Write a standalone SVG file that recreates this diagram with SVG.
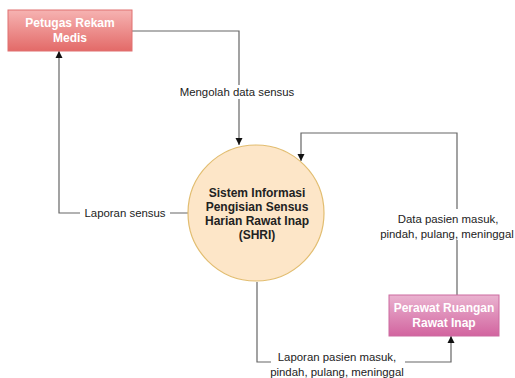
<svg xmlns="http://www.w3.org/2000/svg" width="515" height="378" viewBox="0 0 515 378">
<style>
.lbl{font-family:"Liberation Sans",Arial,sans-serif;font-size:11.4px;fill:#222;text-anchor:middle}
.nt{font-family:"Liberation Sans",Arial,sans-serif;font-size:12px;font-weight:bold;text-anchor:middle}
.edge{fill:none;stroke:#666;stroke-width:1.2}
.bg{fill:#fff}
</style>
<defs>
<linearGradient id="gRed" x1="0" y1="0" x2="0" y2="1"><stop offset="0" stop-color="#f6b3b2"/><stop offset="1" stop-color="#e36a68"/></linearGradient>
<linearGradient id="gPink" x1="0" y1="0" x2="0" y2="1"><stop offset="0" stop-color="#eab3d0"/><stop offset="1" stop-color="#d2649f"/></linearGradient>
<marker id="arr" markerWidth="8" markerHeight="8" refX="7" refY="4" orient="auto" markerUnits="userSpaceOnUse"><path d="M0,0.5 L7,4 L0,7.5 Z" fill="#111"/></marker>
</defs>
<rect width="515" height="378" fill="#fff"/>
<g id="connectors">
<path class="edge" d="M132,31 H239 V145" marker-end="url(#arr)"/>
<rect class="bg" x="176" y="85" width="120" height="14"/>
<text class="lbl" x="237" y="96">Mengolah data sensus</text>
<path class="edge" d="M188,213 H59 V51" marker-end="url(#arr)"/>
<rect class="bg" x="80" y="206" width="90" height="14"/>
<text class="lbl" x="125" y="217">Laporan sensus</text>
<path class="edge" d="M457,295 V133 H301 V161" marker-end="url(#arr)"/>
<rect class="bg" x="383" y="209" width="132" height="31"/>
<text class="lbl" x="448" y="223">Data pasien masuk,</text>
<text class="lbl" x="447" y="238">pindah, pulang, meninggal</text>
<path class="edge" d="M257,282 V362 H451 V336" marker-end="url(#arr)"/>
<rect class="bg" x="271" y="347" width="134" height="31"/>
<text class="lbl" x="337" y="361">Laporan pasien masuk,</text>
<text class="lbl" x="337" y="376">pindah, pulang, meninggal</text>
</g>
<g id="petugas">
<rect x="8" y="10" width="124" height="41" fill="url(#gRed)" stroke="#e07070" stroke-width="1"/>
<text class="nt" x="70" y="27" fill="#fff">Petugas Rekam</text>
<text class="nt" x="70" y="42" fill="#fff">Medis</text>
</g>
<g id="shri">
<circle cx="256" cy="213" r="68" fill="#fde6c8" stroke="#e2bd70" stroke-width="1.2"/>
<text class="nt" x="257" y="197" fill="#222">Sistem Informasi</text>
<text class="nt" x="257" y="211" fill="#222">Pengisian Sensus</text>
<text class="nt" x="257" y="225" fill="#222">Harian Rawat Inap</text>
<text class="nt" x="257" y="239" fill="#222">(SHRI)</text>
</g>
<g id="perawat">
<rect x="389" y="295" width="110" height="41" fill="url(#gPink)" stroke="#cc6ba0" stroke-width="1"/>
<text class="nt" x="444" y="312" fill="#fff">Perawat Ruangan</text>
<text class="nt" x="444" y="327" fill="#fff">Rawat Inap</text>
</g>
</svg>
